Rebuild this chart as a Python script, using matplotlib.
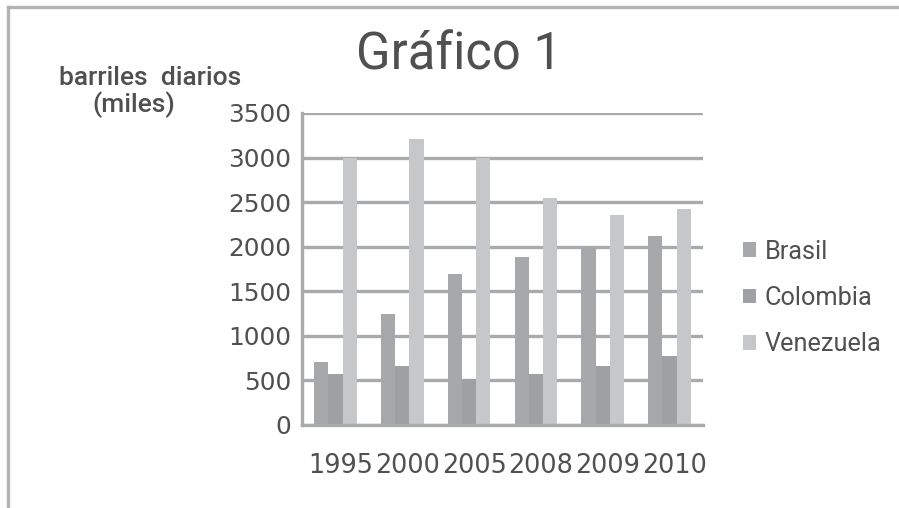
import matplotlib
matplotlib.use("Agg")
import matplotlib.pyplot as plt
import matplotlib.transforms as mtransforms
import numpy as np
from matplotlib.lines import Line2D

years = ["1995", "2000", "2005", "2008", "2009", "2010"]
series_names = ["Brasil", "Colombia", "Venezuela"]
brasil = [705, 1240, 1690, 1885, 2010, 2120]
colombia = [575, 665, 515, 575, 665, 775]
venezuela = [3000, 3210, 3000, 2545, 2355, 2420]
yticks = [0, 500, 1000, 1500, 2000, 2500, 3000, 3500]

colors = ["#a7a8aa", "#9fa0a3", "#c6c7c9"]
text_color = "#505050"
grid_color = "#a9aaac"

W, H = 899, 508
fig = plt.figure(figsize=(W / 100, H / 100), dpi=100)
fig.patch.set_facecolor("white")

ax = fig.add_axes([302 / W, (H - 425) / H, 401 / W, 312 / H])
x = np.arange(len(years))
bw = 0.213
handles = []
for i, (vals, name) in enumerate(zip([brasil, colombia, venezuela], series_names)):
    b = ax.bar(x + (i - 1) * bw, vals, width=bw, color=colors[i], label=name,
               zorder=3, linewidth=0)
    handles.append(b)

ax.set_xlim(-0.5, len(years) - 0.5)
ax.set_ylim(0, 3500)
ax.set_yticks(yticks)
ax.set_xticks(x)
ax.set_xticklabels(years)
ax.yaxis.grid(True, color=grid_color, linewidth=2.4, zorder=1)
ax.set_axisbelow(True)
for s in ["top", "right"]:
    ax.spines[s].set_visible(False)
for s in ["left", "bottom"]:
    ax.spines[s].set_color(grid_color)
    ax.spines[s].set_linewidth(2.4)
    ax.spines[s].set_zorder(4)
ax.tick_params(axis="both", length=0, colors=text_color)
ax.tick_params(axis="y", pad=8)
ax.tick_params(axis="x", pad=20)
for lab in ax.get_yticklabels():
    lab.set_fontfamily("DejaVu Sans")
    lab.set_fontsize(17.8)
shift = mtransforms.ScaledTranslation(0.05, 0, fig.dpi_scale_trans)
for lab in ax.get_xticklabels():
    lab.set_fontfamily("DejaVu Sans")
    lab.set_fontsize(18.4)
    lab.set_transform(lab.get_transform() + shift)

fig.text(459 / W, 1 - 70 / H, "Gráfico 1", family="Roboto", fontsize=36.5,
         color=text_color, ha="center", va="baseline")
fig.text(150 / W, 1 - 85 / H, "barriles  diarios", family="Roboto",
         fontweight="medium", fontsize=19, color=text_color,
         ha="center", va="baseline")
fig.text(134 / W, 1 - 112 / H, "(miles)", family="Roboto",
         fontweight="medium", fontsize=19, color=text_color,
         ha="center", va="baseline")

leg = fig.legend(handles=handles, labels=series_names, loc="center left",
                 bbox_to_anchor=(730 / W, 1 - 298 / H), frameon=False,
                 prop={"family": "Roboto", "size": 18.2},
                 handlelength=0.53, handleheight=0.53, handletextpad=0.33,
                 labelspacing=0.88, borderpad=0)
for t in leg.get_texts():
    t.set_color(text_color)

# outer frame
fig.add_artist(Line2D([7.5 / W, 1.0], [1 - 6.5 / H, 1 - 6.5 / H],
                      transform=fig.transFigure, color="#b3b3b3", linewidth=2.4))
fig.add_artist(Line2D([7.5 / W, 7.5 / W], [0, 1 - 6.5 / H],
                      transform=fig.transFigure, color="#b3b3b3", linewidth=2.4))

fig.savefig("out.png", dpi=100, facecolor="white")
